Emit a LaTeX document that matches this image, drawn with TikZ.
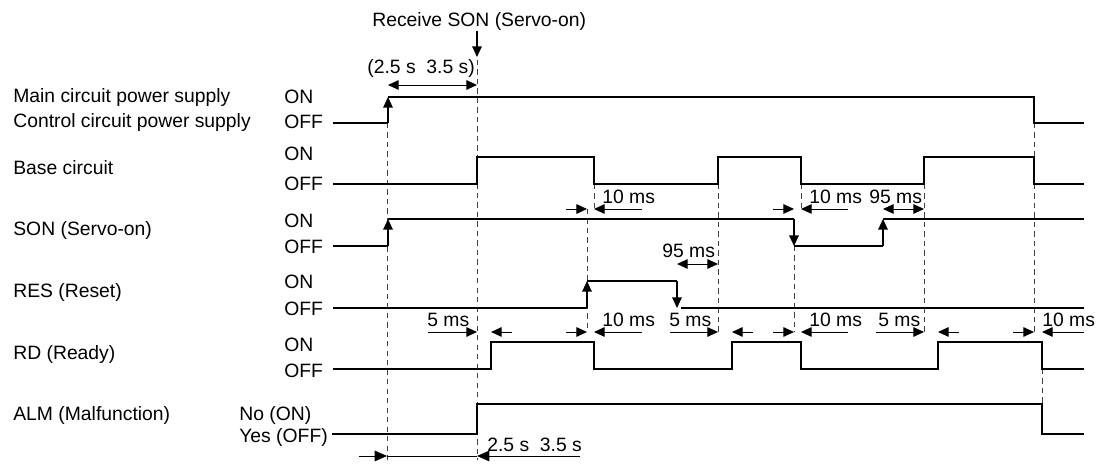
\documentclass[tikz,border=0pt]{standalone}
\usepackage{fontspec}
\setmainfont{Liberation Sans}
\usetikzlibrary{arrows.meta}

\tikzset{
  sig/.style={line width=0.65pt},
  guide/.style={line width=0.55pt, black!75, dash pattern=on 3pt off 2.4pt},
  dim/.style={line width=0.55pt},
  lbl/.style={anchor=base west, inner sep=0pt},
}

\begin{document}
\begin{tikzpicture}[x=0.02cm, y=-0.02cm, >={Triangle[length=6pt,width=5.4pt]},
    every node/.style={font=\fontsize{11}{13}\selectfont}]
  \useasboundingbox (0,0) rectangle (1103,465);

  % signal names
  \node[lbl] (main) at (13,103) {Main circuit power supply};
  \node[lbl] (ctrl) at (13,128) {Control circuit power supply};
  \node[lbl] (base) at (13,175) {Base circuit};
  \node[lbl] (son) at (13,236) {SON (Servo-on)};
  \node[lbl] (res) at (13,298) {RES (Reset)};
  \node[lbl] (rd) at (13,360) {RD (Ready)};
  \node[lbl] (alm) at (13,421) {ALM (Malfunction)};

  % levels
  \node[lbl] (mainon) at (284,104) {ON};
  \node[lbl] (mainoff) at (284,129) {OFF};
  \node[lbl] (baseon) at (284,161) {ON};
  \node[lbl] (baseoff) at (284,191) {OFF};
  \node[lbl] (sonon) at (284,228) {ON};
  \node[lbl] (sonoff) at (284,254) {OFF};
  \node[lbl] (reson) at (284,289) {ON};
  \node[lbl] (resoff) at (284,316) {OFF};
  \node[lbl] (rdon) at (284,352) {ON};
  \node[lbl] (rdoff) at (284,378) {OFF};
  \node[lbl] (almon) at (239,421) {No (ON)};
  \node[lbl] (almoff) at (239,443) {Yes (OFF)};

  % guide lines
  \draw[guide] (387,123) -- (387,460);
  \draw[guide] (477,60) -- (477,460);
  \draw[guide] (587,209) -- (587,332);
  \draw[guide] (594,184) -- (594,209);
  \draw[guide] (718,184) -- (718,332);
  \draw[guide] (794,246) -- (794,332);
  \draw[guide] (801,184) -- (801,209);
  \draw[guide] (924,184) -- (924,332);
  \draw[guide] (1034,123) -- (1034,157);
  \draw[guide] (1034,184) -- (1034,332);
  \draw[guide] (1042,369) -- (1042,404);

  % main / control circuit power
  \draw[sig] (333,123) -- (388,123);
  \draw[sig,->] (388,123) -- (388,97);
  \draw[sig] (388,97) -- (1034,97) -- (1034,123) -- (1084,123);

  % base circuit
  \draw[sig] (333,184) -- (477,184) -- (477,157) -- (594,157) -- (594,184)
    -- (718,184) -- (718,157) -- (801,157) -- (801,184) -- (924,184)
    -- (924,157) -- (1034,157) -- (1034,184) -- (1084,184);

  % SON
  \draw[sig] (333,246) -- (388,246);
  \draw[sig,->] (388,246) -- (388,219);
  \draw[sig] (388,219) -- (794,219);
  \draw[sig,->] (794,219) -- (794,246);
  \draw[sig] (794,246) -- (883,246);
  \draw[sig,->] (883,246) -- (883,219);
  \draw[sig] (883,219) -- (1084,219);

  % RES
  \draw[sig] (333,308) -- (587,308);
  \draw[sig,->] (587,308) -- (587,281);
  \draw[sig] (587,281) -- (677,281);
  \draw[sig,->] (677,281) -- (677,308);
  \draw[sig] (681,308) -- (1084,308);

  % RD
  \draw[sig] (333,369) -- (491,369) -- (491,342) -- (594,342) -- (594,369)
    -- (732,369) -- (732,342) -- (801,342) -- (801,369) -- (938,369)
    -- (938,342) -- (1042,342) -- (1042,369) -- (1084,369);

  % ALM
  \draw[sig] (332,434) -- (477,434) -- (477,404) -- (1042,404) -- (1042,434) -- (1084,434);

  % receive SON
  \node[lbl] (recv) at (372,27) {Receive SON (Servo-on)};
  \draw[sig,->] (477,31) -- (477,57);
  \node[lbl] (t1) at (367,74) {(2.5 s\ \ 3.5 s)};
  \draw[dim,<->] (388,85) -- (477,85);

  % 10 ms / 95 ms between SON and RES
  \draw[dim,->] (566,209) -- (587,209);
  \draw[dim,->] (642,209) -- (594,209);
  \node[lbl] (d1) at (602,204) {10 ms};
  \draw[dim,->] (773,209) -- (794,209);
  \draw[dim,->] (848,209) -- (801,209);
  \node[lbl] (d2) at (809,204) {10 ms};
  \draw[dim,<->] (883,209) -- (924,209);
  \node[lbl] (d3) at (869,204) {95 ms};
  \draw[dim,<->] (677,264) -- (718,264);
  \node[lbl] (d4) at (662,258) {95 ms};

  % delays before RD
  \draw[dim,->] (428,332) -- (477,332);
  \draw[dim,->] (512,332) -- (491,332);
  \node[lbl] (r1) at (427,327) {5 ms};
  \draw[dim,->] (566,332) -- (587,332);
  \draw[dim,->] (642,332) -- (594,332);
  \node[lbl] (r2) at (602,327) {10 ms};
  \draw[dim,->] (670,332) -- (718,332);
  \draw[dim,->] (753,332) -- (732,332);
  \node[lbl] (r3) at (669,327) {5 ms};
  \draw[dim,->] (773,332) -- (794,332);
  \draw[dim,->] (848,332) -- (801,332);
  \node[lbl] (r4) at (809,327) {10 ms};
  \draw[dim,->] (876,332) -- (924,332);
  \draw[dim,->] (959,332) -- (938,332);
  \node[lbl] (r5) at (878,327) {5 ms};
  \draw[dim,->] (1013,332) -- (1034,332);
  \draw[dim,->] (1084,332) -- (1042,332);
  \node[lbl] (r6) at (1042,327) {10 ms};

  % bottom
  \draw[dim] (387,456) -- (477,456);
  \draw[dim,-{Triangle[length=7pt,width=6pt]}] (359,456) -- (387,456);
  \draw[dim,-{Triangle[length=7pt,width=6pt]}] (580,456) -- (477,456);
  \node[lbl] (t2) at (487,452) {2.5 s\ \ 3.5 s};
\end{tikzpicture}
\end{document}
